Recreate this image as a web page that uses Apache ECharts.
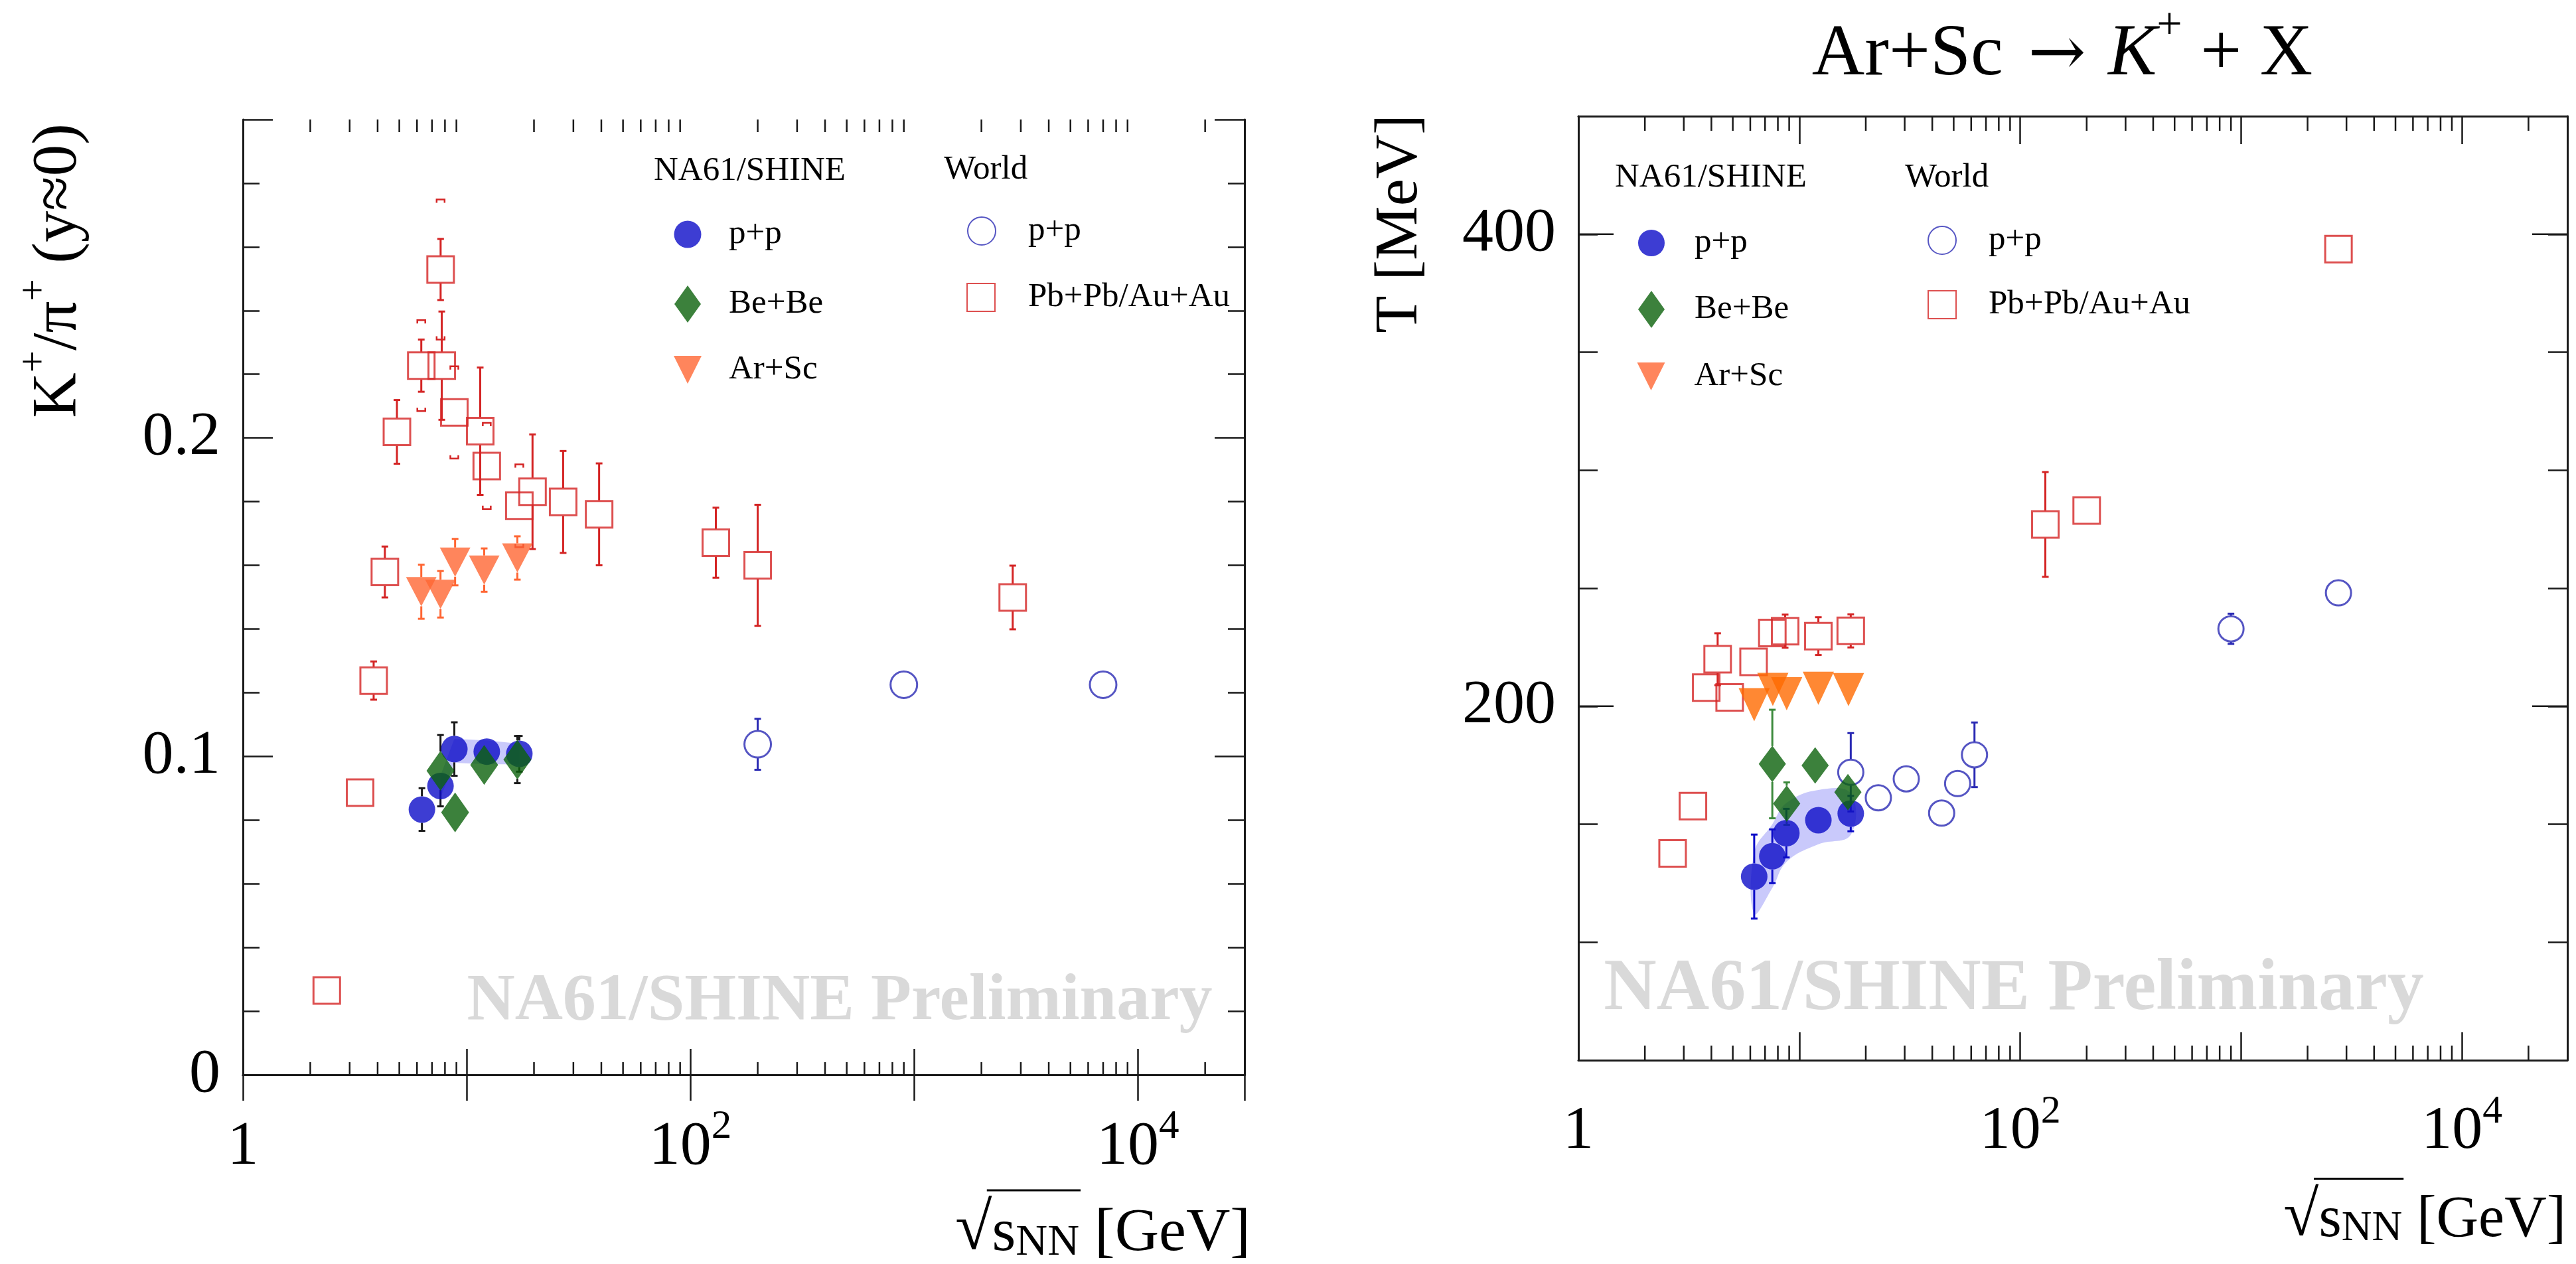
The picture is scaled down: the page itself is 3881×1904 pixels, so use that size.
<!DOCTYPE html>
<html><head><meta charset="utf-8">
<script src="https://cdn.jsdelivr.net/npm/echarts@6/dist/echarts.min.js"></script>
<style>html,body{margin:0;padding:0;background:#fff}#c{width:3881px;height:1904px}</style>
</head><body><div id="c"></div>
<script>
// ================= DATA =================
// ---- Left panel: K+/pi+ (y~0) vs sqrt(s_NN) ----
const kpiPP_x   = [6.31, 7.64, 8.81, 12.3, 17.2];
const kpiPP_y   = [0.0833, 0.0907, 0.1023, 0.1015, 0.1008];
const kpiPP_err = [0.0067, 0.004, 0.0084, 0.004, 0.0056];
const kpiBand_x  = [7.64, 8.81, 12.3, 17.2];
const kpiBand_lo = [0.087, 0.098, 0.0975, 0.0975];
const kpiBand_hi = [0.094, 0.1055, 0.105, 0.104];
const kpiBeBe_x   = [7.64, 8.88, 11.98, 16.85];
const kpiBeBe_y   = [0.0955, 0.0824, 0.0973, 0.0990];
const kpiBeBe_err = [0.0112, 0.004, 0.004, 0.0074];
const kpiArSc_x   = [6.27, 7.64, 8.88, 11.98, 16.85];
const kpiArSc_y   = [0.1517, 0.1509, 0.1610, 0.1585, 0.1623];
const kpiArSc_err = [0.0085, 0.0073, 0.0073, 0.0068, 0.0068];
const kpiPb_x   = [2.37, 3.34, 3.84, 4.31, 4.88, 6.27, 7.65, 7.74, 8.81, 11.5, 12.3, 17.2, 19.7, 27.0, 39.1, 130, 200, 2760];
const kpiPb_y   = [0.0265, 0.0886, 0.1238, 0.1579, 0.2019, 0.2227, 0.2529, 0.2227, 0.2080, 0.2021, 0.1912, 0.1787, 0.1831, 0.1799, 0.1760, 0.1671, 0.1600, 0.1499];
const kpiPb_err = [0, 0, 0.006, 0.008, 0.010, 0.0082, 0.0096, 0.017, 0.003, 0.020, 0.003, 0.003, 0.018, 0.016, 0.016, 0.011, 0.019, 0.010];
const kpiPb_sys = [0, 0, 0, 0, 0, 0.0143, 0.022, 0, 0.0145, 0, 0.0135, 0.013, 0, 0, 0, 0, 0, 0];
const kpiWorld_x   = [200, 900, 7000];
const kpiWorld_y   = [0.1038, 0.1225, 0.1225];
const kpiWorld_err = [0.008, 0, 0];

// ---- Right panel: T [MeV] vs sqrt(s_NN) ----
const tPP_x   = [6.25, 7.55, 8.74, 12.2, 17.1];
const tPP_y   = [127.8, 136.4, 146.2, 151.7, 154.5];
const tPP_err = [17.8, 11.4, 10.3, 4, 7.5];
const tBand_x  = [6.25, 7.55, 8.74, 12.2, 17.1];
const tBand_lo = [112, 123, 134, 141.5, 145.5];
const tBand_hi = [138, 150, 159, 164.5, 163];
const tBeBe_x   = [7.55, 8.77, 11.8, 16.6];
const tBeBe_y   = [175.5, 158.7, 174.9, 163.6];
const tBeBe_err = [23, 9, 0, 0];
const tArSc_x   = [6.25, 7.59, 8.77, 12.2, 16.7];
const tArSc_y   = [200.6, 207.1, 205.3, 207.6, 207.0];
const tPb_x   = [2.67, 3.30, 3.79, 4.27, 4.84, 6.21, 7.55, 8.63, 12.2, 17.1, 130, 200, 2760];
const tPb_y   = [137.6, 157.7, 207.9, 219.9, 203.7, 218.8, 231.0, 231.8, 229.7, 231.9, 277.0, 282.9, 393.7];
const tPb_err = [0, 0, 3, 11, 2, 0, 3, 7, 8, 7, 22.2, 5.9, 0];
const tWorld_x   = [17.1, 22.8, 30.5, 44.1, 52.1, 62.1, 900, 2760];
const tWorld_y   = [172.0, 161.2, 169.2, 154.7, 167.2, 179.4, 232.8, 248.0];
const tWorld_err = [16.6, 0, 0, 0, 0, 13.7, 6.4, 0];

// ---- axes / ticks ----
const X_MIN = 1, X_MAX = 30000;
const xLabelExps = [0, 2, 4];               // labelled decades: 1, 10^2, 10^4
const xMinorTicks = [];
for (const d of [1, 10, 100, 1000, 10000]) for (const m of [2,3,4,5,6,7,8,9]) if (m*d < X_MAX) xMinorTicks.push(m*d);
const kpiYLabels = [0, 0.1, 0.2];
const tYLabels = [200, 400];
const tYMajorTicks = [200, 400];

// ================= STYLE =================
const SERIF = '"Liberation Serif", "Times New Roman", serif';
const INK = '#1a1a1a';
const C = { pp:'#0c0cc8', bebe:'#0b620b', arscL:'#ff6633', arscR:'#ff6a00', pb:'#d42424', world:'#2a2ab4', band:'rgba(120,120,245,0.40)' };
const INV_TRI = 'path://M0,0 L10,0 L5,10 Z';

const chart = echarts.init(document.getElementById('c'), null, {renderer:'canvas'});

function zip(a, b) { return a.map((v, i) => [v, b[i]]); }

function xLabelFormatter(v) {
  const e = Math.round(Math.log10(v));
  if (Math.abs(v - Math.pow(10, e)) > 1e-6 * v) return '';
  if (xLabelExps.indexOf(e) < 0) return '';
  return e === 0 ? '{b|1}' : '{b|10}{s|' + e + '}';
}
function xRich(fs) {
  return { b:{fontFamily:SERIF, fontSize:fs, color:'#000', lineHeight:fs*1.15, verticalAlign:'bottom'},
           s:{fontFamily:SERIF, fontSize:fs*0.65, color:'#000', lineHeight:fs*0.65, verticalAlign:'top'} };
}

function xAxes(grid, majorLen, fs) {
  const base = { gridIndex:grid, type:'log', logBase:10, min:X_MIN, max:X_MAX, splitNumber:5,
    splitLine:{show:false}, axisLine:{show:true, lineStyle:{color:INK, width:3}},
    axisTick:{show:true, inside:true, length:majorLen, lineStyle:{color:INK, width:2.5}} };
  return [
    Object.assign({}, base, { position:'bottom',
      axisLabel:{show:true, margin:48, formatter:xLabelFormatter, rich:xRich(fs), showMinLabel:true, showMaxLabel:true} }),
    Object.assign({}, base, { position:'top', axisLabel:{show:false} })
  ];
}
function yAxes(grid, min, max, interval, majorLen, minor, labels, fs) {
  const base = { gridIndex:grid, type:'value', min, max, interval, splitLine:{show:false},
    axisLine:{show:true, lineStyle:{color:INK, width:3}},
    axisTick:{show:true, inside:true, length:majorLen, lineStyle:{color:INK, width:2.5}},
    minorTick: minor ? {show:true, splitNumber:minor.split, length:minor.len, lineStyle:{color:INK, width:2.5}} : {show:false},
    minorSplitLine:{show:false} };
  return [
    Object.assign({}, base, { position:'left',
      axisLabel:{show:true, margin:34, fontFamily:SERIF, fontSize:fs, color:'#000',
        formatter: v => labels.some(l => Math.abs(l - v) < 1e-9) ? String(+v.toFixed(3)) : ''} }),
    Object.assign({}, base, { position:'right', axisLabel:{show:false} })
  ];
}

// ----- custom series helpers -----
function ln(x1, y1, x2, y2, color, w) {
  return {type:'line', shape:{x1, y1, x2, y2}, style:{stroke:color, lineWidth:w}};
}
function errSeries(xa, ya, x, y, err, color, gap, cap, z) {
  return { type:'custom', xAxisIndex:xa, yAxisIndex:ya, silent:true, z:z, clip:false,
    data: x.map((v, i) => [v, y[i], err[i]]), encode:{x:0, y:1},
    renderItem(params, api) {
      const xv = api.value(0), yv = api.value(1), e = api.value(2);
      if (!e) return null;
      const c = api.coord([xv, yv]), t = api.coord([xv, yv + e]), b = api.coord([xv, yv - e]);
      const ch = [];
      if (c[1] - gap > t[1]) { ch.push(ln(c[0], t[1], c[0], c[1] - gap, color, 3)); ch.push(ln(c[0] - cap, t[1], c[0] + cap, t[1], color, 3)); }
      if (b[1] > c[1] + gap) { ch.push(ln(c[0], c[1] + gap, c[0], b[1], color, 3)); ch.push(ln(c[0] - cap, b[1], c[0] + cap, b[1], color, 3)); }
      return {type:'group', children:ch};
    } };
}
function sysSeries(xa, ya, x, y, sys, color, z) {
  return { type:'custom', xAxisIndex:xa, yAxisIndex:ya, silent:true, z:z, clip:false,
    data: x.map((v, i) => [v, y[i], sys[i]]), encode:{x:0, y:1},
    renderItem(params, api) {
      const xv = api.value(0), yv = api.value(1), s = api.value(2);
      if (!s) return null;
      const t = api.coord([xv, yv + s]), b = api.coord([xv, yv - s]);
      const w = 6, h = 5, st = {stroke:color, lineWidth:2.5, fill:null};
      return {type:'group', children:[
        {type:'polyline', shape:{points:[[t[0]-w, t[1]+h],[t[0]-w, t[1]],[t[0]+w, t[1]],[t[0]+w, t[1]+h]]}, style:st},
        {type:'polyline', shape:{points:[[b[0]-w, b[1]-h],[b[0]-w, b[1]],[b[0]+w, b[1]],[b[0]+w, b[1]-h]]}, style:st}
      ]};
    } };
}
function bandSeries(xa, ya, bx, lo, hi, smooth) {
  return { type:'custom', xAxisIndex:xa, yAxisIndex:ya, silent:true, z:1, clip:false,
    data:[[bx[0], lo[0]]], encode:{x:0, y:1},
    renderItem(params, api) {
      const pts = bx.map((v, i) => api.coord([v, hi[i]]));
      for (let i = bx.length - 1; i >= 0; i--) pts.push(api.coord([bx[i], lo[i]]));
      return {type:'polygon', shape:{points:pts, smooth:smooth}, style:{fill:C.band}};
    } };
}
function xMinorTickSeries(xa, ya, yMin, yMax, len) {
  return { type:'custom', xAxisIndex:xa, yAxisIndex:ya, silent:true, z:3, clip:false,
    data: xMinorTicks.map(v => [v, yMin, yMax]), encode:{x:0, y:1},
    renderItem(params, api) {
      const v = api.value(0);
      const b = api.coord([v, api.value(1)]), t = api.coord([v, api.value(2)]);
      return {type:'group', children:[ln(b[0], b[1], b[0], b[1] - len, INK, 2.5), ln(t[0], t[1], t[0], t[1] + len, INK, 2.5)]};
    } };
}
function yMajorTickSeries(xa, ya, vals, len) {
  return { type:'custom', xAxisIndex:xa, yAxisIndex:ya, silent:true, z:3, clip:false,
    data: vals.map(v => [X_MIN, v, X_MAX]), encode:{x:0, y:1},
    renderItem(params, api) {
      const v = api.value(1);
      const l = api.coord([api.value(0), v]), r = api.coord([api.value(2), v]);
      return {type:'group', children:[ln(l[0], l[1], l[0] + len, l[1], INK, 2.5), ln(r[0], r[1], r[0] - len, r[1], INK, 2.5)]};
    } };
}
function scat(name, xa, ya, x, y, symbol, size, style, rot, z) {
  return { type:'scatter', name, xAxisIndex:xa, yAxisIndex:ya, data:zip(x, y), symbol, symbolSize:size,
    symbolRotate:rot || 0, itemStyle:style, z:z, emphasis:{disabled:true}, animation:false };
}

// ----- legends (one component per entry) -----
function legendItem(name, cx, cy, w, h, tx, fs, icon) {
  const item = icon ? {name, icon} : name;
  return { data:[item], orient:'vertical', left:cx - w/2, top:cy - Math.max(h, fs)/2,
    itemWidth:w, itemHeight:h, padding:0, selectedMode:false,
    formatter: n => n.replace('World ', ''),
    textStyle:{fontFamily:SERIF, fontSize:fs, color:'#000', padding:[0, 0, 0, tx - (cx + w/2 + 5)]} };
}

// ----- titles -----
function richBase(fs) {
  const t = (o) => Object.assign({fontFamily:SERIF, fill:'#000', color:'#000'}, o);
  return { a:t({fontSize:fs, lineHeight:fs*1.2, verticalAlign:'bottom'}),
           k:t({fontStyle:'italic', fontSize:fs, lineHeight:fs*1.2, verticalAlign:'bottom'}),
           r:t({fontFamily:'"DejaVu Serif", serif', fontSize:fs*0.95, lineHeight:fs*1.2, verticalAlign:'bottom', padding:[0, fs*0.3, 0, fs*0.34]}),
           q:t({fontSize:fs*1.1, lineHeight:fs*1.2, verticalAlign:'bottom'}),
           s:t({fontSize:fs*0.62, lineHeight:fs*0.62, verticalAlign:'top'}),
           d:t({fontSize:fs*0.72, lineHeight:fs*0.72, verticalAlign:'bottom'}) };
}
function gText(text, x, y, fs, opts) {
  opts = opts || {};
  return { type:'text', x, y, rotation:opts.rot || 0, z:opts.z == null ? 10 : opts.z, silent:true,
    style:{ text, rich:richBase(fs), fontFamily:SERIF, fontSize:fs, fontWeight:opts.bold ? 'bold' : 'normal',
      fill:opts.fill || '#000', textAlign:opts.align || 'center', textVerticalAlign:'middle',
      align:opts.align || 'center', verticalAlign:'middle' } };
}
// sqrt(s_NN) [GeV] with a vinculum over s_NN (positions measured from text widths)
const mctx = document.createElement('canvas').getContext('2d');
function tw(str, size, fam) { mctx.font = size + 'px ' + (fam || SERIF); return mctx.measureText(str).width; }
function sqrtTitle(right, y, fs) {
  const wq = tw('√', fs*1.1), ws = tw('s', fs), wd = tw('NN', fs*0.72), wg = tw(' [GeV]', fs);
  const x0 = right - (wq + ws + wd + wg);
  const top = y - fs*0.62;
  return [
    gText('{q|√}{a|s}{d|NN}{a| [GeV]}', right, y, fs, {align:'right'}),
    {type:'line', silent:true, z:10, shape:{x1:x0 + wq*0.86, y1:top, x2:x0 + wq + ws + wd + 2, y2:top}, style:{stroke:'#000', lineWidth:3}}
  ];
}

const option = {
  animation:false,
  backgroundColor:'#ffffff',
  grid:[
    {left:366, top:180, width:1509, height:1439, containLabel:false, outerBoundsMode:'none'},
    {left:2378, top:175, width:1490, height:1422, containLabel:false, outerBoundsMode:'none'}
  ],
  xAxis: [].concat(xAxes(0, 39, 94), xAxes(1, 42, 92)),
  yAxis: [].concat(
    yAxes(0, 0, 0.3, 0.1, 45, {split:5, len:25}, kpiYLabels, 94),
    yAxes(1, 50, 450, 50, 29, null, tYLabels, 94)),
  legend:[
    legendItem('p+p', 1036, 353, 41, 41, 1098, 51),
    legendItem('Be+Be', 1036, 458, 40, 56, 1098, 51),
    legendItem('Ar+Sc', 1036, 557, 42, 42, 1098, 51, INV_TRI),
    legendItem('World p+p', 1478, 348, 42, 42, 1548, 51),
    legendItem('Pb+Pb/Au+Au', 1477, 448, 42, 42, 1548, 51),
    legendItem('p+p', 2488, 366, 40, 40, 2553, 51),
    legendItem('Be+Be', 2488, 466, 40, 56, 2553, 51),
    legendItem('Ar+Sc', 2488, 567, 43, 42, 2553, 51, INV_TRI),
    legendItem('World p+p', 2925, 362, 42, 42, 2995, 51),
    legendItem('Pb+Pb/Au+Au', 2925, 459, 42, 42, 2995, 51)
  ],
  graphic:[
    // watermarks
    gText('NA61/SHINE Preliminary', 1265, 1509, 100, {bold:true, fill:'#d9d9d9', z:0}),
    gText('NA61/SHINE Preliminary', 3034, 1492, 110, {bold:true, fill:'#d9d9d9', z:0}),
    // legend headers
    gText('NA61/SHINE', 985, 258, 51, {align:'left'}),
    gText('World', 1422, 256, 51, {align:'left'}),
    gText('NA61/SHINE', 2433, 268, 51, {align:'left'}),
    gText('World', 2870, 268, 51, {align:'left'}),
    // title
    gText('{a|Ar+Sc}{r|→}{k|K}{s|+}{a| + X}', 3107, 72, 110),
    // y titles
    gText('{a|K}{s|+}{a|/π}{s|+}{a| (y≈0)}', 80, 408, 95, {rot:Math.PI/2}),
    gText('{a|T [MeV]}', 2101, 337, 92, {rot:Math.PI/2})
  ].concat(sqrtTitle(1884, 1850, 92), sqrtTitle(3866, 1830, 88)),
  series:[
    // ---------- left panel ----------
    bandSeries(0, 0, kpiBand_x, kpiBand_lo, kpiBand_hi, 0),
    errSeries(0, 0, kpiPb_x, kpiPb_y, kpiPb_err, C.pb, 21, 5, 2),
    sysSeries(0, 0, kpiPb_x, kpiPb_y, kpiPb_sys, C.pb, 2),
    scat('Pb+Pb/Au+Au', 0, 0, kpiPb_x, kpiPb_y, 'rect', 40, {color:'rgba(0,0,0,0)', borderColor:C.pb, borderWidth:3}, 0, 2),
    errSeries(0, 0, kpiWorld_x, kpiWorld_y, kpiWorld_err, C.world, 21, 5, 2),
    scat('World p+p', 0, 0, kpiWorld_x, kpiWorld_y, 'circle', 40, {color:'rgba(0,0,0,0)', borderColor:C.world, borderWidth:3}, 0, 2),
    errSeries(0, 0, kpiPP_x, kpiPP_y, kpiPP_err, INK, 20, 5, 2),
    scat('p+p', 0, 0, kpiPP_x, kpiPP_y, 'circle', 40, {color:C.pp}, 0, 2),
    errSeries(0, 0, kpiBeBe_x, kpiBeBe_y, kpiBeBe_err, INK, 29, 5, 2),
    scat('Be+Be', 0, 0, kpiBeBe_x, kpiBeBe_y, 'diamond', [42, 60], {color:C.bebe}, 0, 2),
    errSeries(0, 0, kpiArSc_x, kpiArSc_y, kpiArSc_err, C.arscL, 22, 5, 2),
    scat('Ar+Sc', 0, 0, kpiArSc_x, kpiArSc_y, 'triangle', [46, 44], {color:C.arscL}, 180, 2),
    xMinorTickSeries(0, 0, 0, 0.3, 19),
    // ---------- right panel ----------
    bandSeries(2, 2, tBand_x, tBand_lo, tBand_hi, 0.4),
    errSeries(2, 2, tPb_x, tPb_y, tPb_err, C.pb, 21, 5, 2),
    scat('Pb+Pb/Au+Au', 2, 2, tPb_x, tPb_y, 'rect', 40, {color:'rgba(0,0,0,0)', borderColor:C.pb, borderWidth:3}, 0, 2),
    errSeries(2, 2, tWorld_x, tWorld_y, tWorld_err, C.world, 20, 5, 2),
    scat('World p+p', 2, 2, tWorld_x, tWorld_y, 'circle', 38, {color:'rgba(0,0,0,0)', borderColor:C.world, borderWidth:3}, 0, 2),
    errSeries(2, 2, tPP_x, tPP_y, tPP_err, C.pp, 20, 5, 2),
    scat('p+p', 2, 2, tPP_x, tPP_y, 'circle', 40, {color:C.pp}, 0, 2),
    errSeries(2, 2, tBeBe_x, tBeBe_y, tBeBe_err, '#3c8a3c', 27, 5, 2),
    scat('Be+Be', 2, 2, tBeBe_x, tBeBe_y, 'diamond', [41, 55], {color:C.bebe}, 0, 2),
    scat('Ar+Sc', 2, 2, tArSc_x, tArSc_y, 'triangle', [47, 50], {color:C.arscR}, 180, 2),
    xMinorTickSeries(2, 2, 50, 450, 22),
    yMajorTickSeries(2, 2, tYMajorTicks, 53)
  ]
};
chart.setOption(option);
</script>
</body></html>
